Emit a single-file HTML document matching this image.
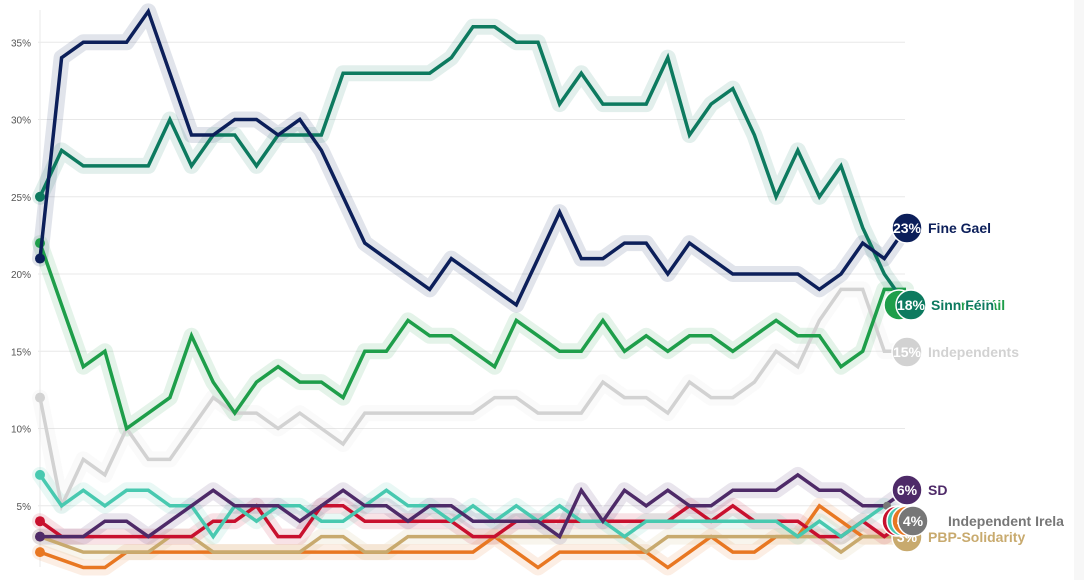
<!DOCTYPE html>
<html><head><meta charset="utf-8">
<style>
html,body{margin:0;padding:0;background:#fff;width:1084px;height:580px;overflow:hidden}
svg{display:block}
text{font-family:"Liberation Sans",sans-serif}
</style></head>
<body>
<svg id="c" width="1084" height="580" viewBox="0 0 1084 580" xmlns="http://www.w3.org/2000/svg">
<rect x="1074" y="0" width="10" height="580" fill="#f7f7f7"/>
<g id="grid"></g>
<g id="lines"></g>
<g id="labels"></g>
</svg>
<script>
var NS="http://www.w3.org/2000/svg";
function el(t,a,p,txt){var e=document.createElementNS(NS,t);for(var k in a)e.setAttribute(k,a[k]);if(txt!=null)e.textContent=txt;p.appendChild(e);return e;}
function X(i){return 40+i*21.65;}
function Y(v){return 583-v*15.45;}
var g=document.getElementById('grid');
[5,10,15,20,25,30,35].forEach(function(v){
 el('line',{x1:38,x2:905,y1:Y(v),y2:Y(v),stroke:'#e8e8e8','stroke-width':1},g);
 el('text',{x:31,y:Y(v)+4,'text-anchor':'end','font-size':10,fill:'#555'},g,v+'%');
});
el('line',{x1:40,x2:40,y1:10,y2:567,stroke:'#eaeaea','stroke-width':1},g);
var S=[
 {c:'#d2d2d2',d:[12,5,8,7,10,8,8,10,12,11,11,10,11,10,9,11,11,11,11,11,11,12,12,11,11,11,13,12,12,11,13,12,12,13,15,14,17,19,19,15,15]},
 {c:'#e87722',d:[2,1.5,1,1,2,2,2,2,2,2,2,2,2,2,2,2,2,2,2,2,2,3,2,1,2,2,2,2,2,1,2,3,2,2,3,3,5,4,3,3,3]},
 {c:'#c8aa6e',d:[3,2.5,2,2,2,2,3,3,2,2,2,2,2,3,3,2,2,3,3,3,3,3,3,3,3,3,3,3,2,3,3,3,3,3,3,3,3,2,3,3,3]},
 {c:'#c8102e',d:[4,3,3,3,3,3,3,3,4,4,5,3,3,5,5,4,4,4,4,4,3,3,4,4,4,4,4,4,4,4,5,4,5,4,4,4,3,3,4,3,4]},
 {c:'#48c9b0',d:[7,5,6,5,6,6,5,5,3,5,4,5,5,4,4,5,6,5,5,4,5,4,5,4,5,4,4,3,4,4,4,4,4,4,4,3,4,3,4,5,4]},
 {c:'#4e2a68',d:[3,3,3,4,4,3,4,5,6,5,5,5,4,5,6,5,5,4,5,5,4,4,4,4,3,6,4,6,5,6,5,5,6,6,6,7,6,6,5,5,6]},
 {c:'#1e9e4a',d:[22,18,14,15,10,11,12,16,13,11,13,14,13,13,12,15,15,17,16,16,15,14,17,16,15,15,17,15,16,15,16,16,15,16,17,16,16,14,15,19,19]},
 {c:'#0d7a5f',d:[25,28,27,27,27,27,30,27,29,29,27,29,29,29,33,33,33,33,33,34,36,36,35,35,31,33,31,31,31,34,29,31,32,29,25,28,25,27,23,20,18]},
 {c:'#0c1f5a',d:[21,34,35,35,35,37,33,29,29,30,30,29,30,28,25,22,21,20,19,21,20,19,18,21,24,21,21,22,22,20,22,21,20,20,20,20,19,20,22,21,23]}
];
var L=document.getElementById('lines');
S.forEach(function(s){
 var pts=s.d.map(function(v,i){return X(i).toFixed(1)+','+Y(v).toFixed(1)}).join(' ');
 el('polyline',{points:pts,fill:'none',stroke:s.c,'stroke-opacity':0.12,'stroke-width':16,'stroke-linejoin':'round','stroke-linecap':'round'},L);
});
S.forEach(function(s){
 var pts=s.d.map(function(v,i){return X(i).toFixed(1)+','+Y(v).toFixed(1)}).join(' ');
 el('polyline',{points:pts,fill:'none',stroke:s.c,'stroke-width':3.5,'stroke-linejoin':'miter'},L);
 el('circle',{cx:X(0),cy:Y(s.d[0]),r:5,fill:s.c},L);
});
el('line',{x1:887,y1:Y(5),x2:906,y2:Y(4),stroke:'#777','stroke-width':3.5},L);
el('circle',{cx:887,cy:Y(5),r:4,fill:'#777'},L);
var B=document.getElementById('labels');
function lab(cx,cy,c,pct,name,tc,tx,halo){
 el('circle',{cx:cx,cy:cy,r:15,fill:c,stroke:'#fff','stroke-width':1.5},B);
 if(pct)el('text',{x:cx,y:cy+5,'text-anchor':'middle','font-size':14,'font-weight':'bold',fill:'#fff'},B,pct);
 if(name){var a={x:tx||928,y:cy+5,'font-size':14,'font-weight':'bold',fill:tc||c};
  if(halo!==false){a.stroke='#fff';a['stroke-width']=3;a['paint-order']='stroke';}
  el('text',a,B,name);}
}
lab(907,537,'#c8aa6e','3%','PBP-Solidarity');
lab(907,228,'#0c1f5a','23%','Fine Gael');
lab(907,352,'#d2d2d2','15%','Independents');
lab(899,305,'#1e9e4a','1','Fianna Fáil',null,932,false);
lab(911,305,'#0d7a5f','18%','Sinn Féin',null,931);
lab(907,490,'#4e2a68','6%','SD');
lab(897,521,'#c8102e','4%',null);
lab(902,521,'#48c9b0','4%',null);
lab(907,521,'#e87722','4%',null);
lab(913,521,'#777777','4%','Independent Irela',null,948);
</script>
</body></html>
